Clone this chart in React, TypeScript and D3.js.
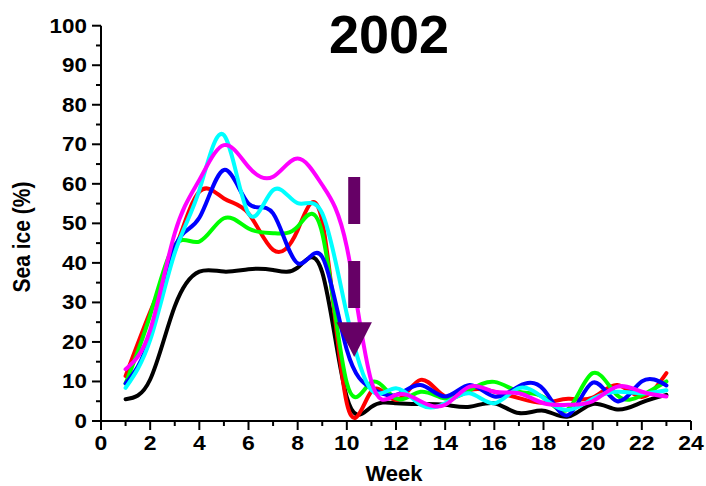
import React from "react";
import * as d3 from "d3";

const weeks = [1, 2, 3, 4, 5, 6, 7, 8, 9, 10, 11, 12, 13, 14, 15, 16, 17, 18, 19, 20, 21, 22, 23];
const blackSeries = [5.5, 10.5, 29, 37.8, 37.8, 38.4, 38.2, 38.8, 37.6, 6, 3.6, 4.5, 4.3, 4.1, 3.6, 4.5, 2, 2.6, 1.1, 4.3, 2.9, 4.7, 6.6];
const redSeries = [11.4, 27.6, 43, 58, 56.3, 52.5, 43.3, 48.3, 50.5, 4.5, 7.5, 5.3, 10.4, 6.2, 7.8, 7.4, 5.8, 4.6, 5.6, 5.9, 9.1, 6.1, 12.1];
const greenSeries = [9.5, 26.8, 44.5, 45.4, 51.3, 48.7, 47.5, 49.2, 47.5, 9.6, 9.8, 5.7, 7.4, 5.7, 7.8, 9.9, 7.4, 6, 3, 12.1, 6.5, 6.5, 10];
const blueSeries = [9.5, 21.3, 44, 51.4, 63.5, 55, 52.5, 39.9, 41.5, 18, 8.3, 6.6, 9.1, 6.2, 9.1, 6.2, 8.8, 8, 1.5, 9.7, 5, 10, 9];
const cyanSeries = [8.4, 20.5, 42.5, 58.4, 72.3, 52.5, 58.4, 55.1, 52.5, 27, 7.8, 8.3, 4.1, 4.5, 7, 4.5, 8.3, 5.8, 2.8, 5.6, 7.4, 7, 7.8];
const magentaSeries = [13.1, 23, 47.5, 61, 69.8, 64.3, 61.8, 66.4, 59.7, 44, 10, 6.6, 5, 4.1, 8.7, 7.4, 7, 4.5, 4.1, 5, 8.7, 7.4, 6.2];

const seriesList = [
  { name: "black", color: "#000000", values: blackSeries },
  { name: "red", color: "#ff0000", values: redSeries },
  { name: "green", color: "#00ff00", values: greenSeries },
  { name: "blue", color: "#0000ff", values: blueSeries },
  { name: "cyan", color: "#00ffff", values: cyanSeries },
  { name: "magenta", color: "#ff00ff", values: magentaSeries },
];

const xTicks = [0, 2, 4, 6, 8, 10, 12, 14, 16, 18, 20, 22, 24];
const xMinorTicks = [1, 3, 5, 7, 9, 11, 13, 15, 17, 19, 21, 23];
const yTicks = [0, 10, 20, 30, 40, 50, 60, 70, 80, 90, 100];
const yMinorTicks = [5, 15, 25, 35, 45, 55, 65, 75, 85, 95];

// arrow annotation (data units): x, shaft top, shaft bottom, tip, half width of head
const arrowX = [10.3];
const arrowShaft = [61.7, 25];
const arrowTip = [16.2];
const arrowHalfWidth = [0.72];

const W = 706;
const H = 486;

export default function App() {
  const x = d3.scaleLinear().domain([0, 24]).range([101, 691]);
  const y = d3.scaleLinear().domain([0, 100]).range([421, 25.7]);

  const line = d3
    .line<[number, number]>()
    .x((d) => x(d[0]))
    .y((d) => y(d[1]))
    .curve(d3.curveNatural);

  const font = "'Liberation Sans', Arial, sans-serif";
  const ax = arrowX[0];

  return (
    <svg
      width={W}
      height={H}
      style={{ position: "fixed", left: 0, top: 0, background: "#fff" }}
      fontFamily={font}
    >
      <rect x={0} y={0} width={W} height={H} fill="#fff" />
      {seriesList.map((s) => (
        <path
          key={s.name}
          d={line(weeks.map((w, i) => [w, s.values[i]] as [number, number])) || ""}
          fill="none"
          stroke={s.color}
          strokeWidth={4}
          strokeLinejoin="round"
          strokeLinecap="round"
        />
      ))}

      {/* arrow */}
      <line
        x1={x(ax)}
        x2={x(ax)}
        y1={y(arrowShaft[0])}
        y2={y(arrowShaft[1])}
        stroke="#660066"
        strokeWidth={12}
        strokeDasharray="47,37"
      />
      <path
        d={`M${x(ax - arrowHalfWidth[0])},${y(arrowShaft[1])}L${x(ax + arrowHalfWidth[0])},${y(arrowShaft[1])}L${x(ax)},${y(arrowTip[0])}Z`}
        fill="#660066"
      />

      {/* axes */}
      <line x1={x(0)} x2={x(24)} y1={y(0)} y2={y(0)} stroke="#000" strokeWidth={2} />
      <line x1={x(0)} x2={x(0)} y1={y(0)} y2={y(100)} stroke="#000" strokeWidth={2} />
      {xTicks.map((t) => (
        <g key={"xt" + t}>
          <line x1={x(t)} x2={x(t)} y1={y(0)} y2={y(0) + 9} stroke="#000" strokeWidth={2} />
          <text
            transform={`translate(${x(t)},${449.5}) scale(1.12,1)`}
            textAnchor="middle"
            fontSize={20.5}
            fontWeight="bold"
          >
            {t}
          </text>
        </g>
      ))}
      {xMinorTicks.map((t) => (
        <line key={"xm" + t} x1={x(t)} x2={x(t)} y1={y(0)} y2={y(0) + 5} stroke="#000" strokeWidth={2} />
      ))}
      {yTicks.map((t) => (
        <g key={"yt" + t}>
          <line x1={x(0) - 9} x2={x(0)} y1={y(t)} y2={y(t)} stroke="#000" strokeWidth={2} />
          <text
            transform={`translate(${87},${y(t) + 7}) scale(1.15,1)`}
            textAnchor="end"
            fontSize={19.5}
            fontWeight="bold"
          >
            {t}
          </text>
        </g>
      ))}
      {yMinorTicks.map((t) => (
        <line key={"ym" + t} x1={x(0) - 5} x2={x(0)} y1={y(t)} y2={y(t)} stroke="#000" strokeWidth={2} />
      ))}

      <text
        transform={`translate(30,237) rotate(-90) scale(1,1.12)`}
        textAnchor="middle"
        fontSize={21}
        fontWeight="bold"
      >
        Sea ice (%)
      </text>
      <text x={394} y={481} textAnchor="middle" fontSize={22} fontWeight="bold">
        Week
      </text>
      <text x={389} y={53} textAnchor="middle" fontSize={54} fontWeight="bold">
        2002
      </text>
    </svg>
  );
}
